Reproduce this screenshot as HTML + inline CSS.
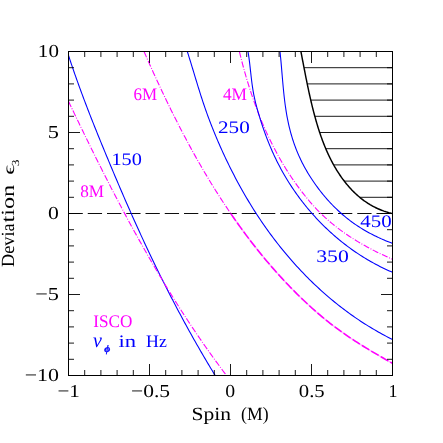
<!DOCTYPE html>
<html><head><meta charset="utf-8"><title>plot</title>
<style>
html,body{margin:0;padding:0;background:#fff;}
svg{display:block;will-change:transform;}
text{font-family:"Liberation Serif",serif;text-rendering:geometricPrecision;}
</style></head><body>
<svg width="443" height="443" viewBox="0 0 443 443">
<rect x="0" y="0" width="443" height="443" fill="#ffffff"/>

<defs><clipPath id="hc"><path d="M300.90,51.50 L301.22,53.13 L301.53,54.76 L301.84,56.38 L302.16,58.01 L302.47,59.64 L302.78,61.26 L303.09,62.89 L303.41,64.52 L303.72,66.14 L304.03,67.77 L304.35,69.39 L304.66,71.02 L304.98,72.64 L305.30,74.26 L305.62,75.89 L305.94,77.51 L306.26,79.13 L306.59,80.75 L306.92,82.38 L307.25,84.00 L307.59,85.62 L307.92,87.24 L308.27,88.85 L308.61,90.47 L308.96,92.09 L309.31,93.71 L309.67,95.32 L310.03,96.94 L310.40,98.55 L310.77,100.16 L311.15,101.78 L311.53,103.39 L311.92,105.00 L312.31,106.61 L312.71,108.22 L313.12,109.82 L313.53,111.43 L313.95,113.04 L314.37,114.64 L314.80,116.25 L315.24,117.85 L315.69,119.45 L316.15,121.05 L316.61,122.65 L317.08,124.24 L317.56,125.84 L318.05,127.43 L318.55,129.02 L319.06,130.60 L319.58,132.18 L320.11,133.76 L320.65,135.34 L321.20,136.91 L321.76,138.48 L322.33,140.04 L322.92,141.60 L323.51,143.15 L324.12,144.70 L324.74,146.24 L325.38,147.78 L326.03,149.31 L326.69,150.83 L327.36,152.35 L328.05,153.86 L328.75,155.37 L329.47,156.87 L330.20,158.36 L330.95,159.84 L331.71,161.32 L332.49,162.78 L333.28,164.24 L334.10,165.70 L334.92,167.14 L335.77,168.57 L336.63,169.99 L337.51,171.41 L338.40,172.81 L339.31,174.20 L340.24,175.57 L341.19,176.93 L342.15,178.28 L343.13,179.62 L344.13,180.94 L345.15,182.25 L346.18,183.53 L347.23,184.81 L348.30,186.06 L349.39,187.30 L350.49,188.52 L351.62,189.72 L352.76,190.90 L353.92,192.06 L355.09,193.19 L356.29,194.31 L357.51,195.41 L358.74,196.48 L359.99,197.53 L361.27,198.55 L362.56,199.55 L363.87,200.53 L365.19,201.48 L366.54,202.40 L367.91,203.30 L369.30,204.17 L370.70,205.01 L372.13,205.82 L373.58,206.61 L375.04,207.36 L376.53,208.08 L378.03,208.77 L379.56,209.43 L381.11,210.06 L382.67,210.66 L384.26,211.22 L385.87,211.74 L387.49,212.24 L389.14,212.69 L390.81,213.12 L392.50,213.50 L392.5,51.5 Z"/></clipPath></defs>
<g clip-path="url(#hc)" stroke="#000" stroke-width="0.9" fill="none">
<line x1="68.5" y1="197.30" x2="392.5" y2="197.30"/>
<line x1="68.5" y1="181.10" x2="392.5" y2="181.10"/>
<line x1="68.5" y1="164.90" x2="392.5" y2="164.90"/>
<line x1="68.5" y1="148.70" x2="392.5" y2="148.70"/>
<line x1="68.5" y1="132.50" x2="392.5" y2="132.50"/>
<line x1="68.5" y1="116.30" x2="392.5" y2="116.30"/>
<line x1="68.5" y1="100.10" x2="392.5" y2="100.10"/>
<line x1="68.5" y1="83.90" x2="392.5" y2="83.90"/>
<line x1="68.5" y1="67.70" x2="392.5" y2="67.70"/>
</g>
<line x1="68.5" y1="213.5" x2="392.5" y2="213.5" stroke="#000" stroke-width="0.95" stroke-dasharray="14.3 4.95"/>
<path d="M68.50,55.40 L69.19,57.51 L69.88,59.62 L70.59,61.72 L71.29,63.82 L72.00,65.93 L72.72,68.03 L73.44,70.12 L74.16,72.22 L74.89,74.31 L75.63,76.41 L76.37,78.50 L77.11,80.59 L77.86,82.68 L78.61,84.76 L79.37,86.85 L80.13,88.93 L80.89,91.01 L81.66,93.09 L82.44,95.17 L83.21,97.25 L83.99,99.32 L84.78,101.40 L85.56,103.47 L86.36,105.54 L87.15,107.62 L87.95,109.68 L88.75,111.75 L89.55,113.82 L90.36,115.89 L91.17,117.95 L91.98,120.02 L92.80,122.08 L93.62,124.14 L94.44,126.20 L95.26,128.26 L96.09,130.32 L96.92,132.38 L97.75,134.44 L98.58,136.49 L99.42,138.55 L100.25,140.60 L101.09,142.66 L101.93,144.71 L102.78,146.76 L103.62,148.82 L104.47,150.87 L105.31,152.92 L106.16,154.97 L107.01,157.02 L107.87,159.07 L108.72,161.12 L109.57,163.16 L110.43,165.21 L111.29,167.26 L112.15,169.31 L113.01,171.35 L113.87,173.40 L114.73,175.44 L115.60,177.48 L116.46,179.53 L117.33,181.57 L118.20,183.61 L119.07,185.65 L119.94,187.69 L120.82,189.73 L121.69,191.77 L122.57,193.81 L123.45,195.85 L124.34,197.88 L125.22,199.92 L126.11,201.95 L127.00,203.98 L127.89,206.02 L128.78,208.05 L129.68,210.08 L130.58,212.11 L131.48,214.13 L132.38,216.16 L133.28,218.19 L134.19,220.21 L135.10,222.23 L136.01,224.26 L136.93,226.28 L137.85,228.30 L138.77,230.32 L139.69,232.33 L140.61,234.35 L141.54,236.36 L142.47,238.38 L143.40,240.39 L144.34,242.40 L145.28,244.41 L146.22,246.42 L147.16,248.43 L148.11,250.43 L149.06,252.44 L150.01,254.44 L150.96,256.44 L151.92,258.45 L152.88,260.44 L153.84,262.44 L154.81,264.44 L155.78,266.43 L156.75,268.43 L157.72,270.42 L158.70,272.41 L159.68,274.40 L160.66,276.39 L161.65,278.37 L162.64,280.36 L163.63,282.34 L164.63,284.32 L165.62,286.30 L166.63,288.28 L167.63,290.26 L168.64,292.23 L169.65,294.21 L170.66,296.18 L171.68,298.15 L172.70,300.12 L173.72,302.09 L174.75,304.05 L175.78,306.02 L176.81,307.98 L177.85,309.94 L178.89,311.90 L179.93,313.86 L180.98,315.81 L182.03,317.77 L183.08,319.72 L184.14,321.67 L185.20,323.62 L186.26,325.56 L187.33,327.51 L188.40,329.45 L189.48,331.39 L190.55,333.33 L191.64,335.27 L192.72,337.20 L193.81,339.14 L194.90,341.07 L196.00,343.00 L197.10,344.93 L198.20,346.85 L199.31,348.78 L200.42,350.70 L201.53,352.62 L202.65,354.54 L203.77,356.45 L204.90,358.37 L206.03,360.28 L207.16,362.19 L208.30,364.10 L209.44,366.00 L210.58,367.91 L211.73,369.81 L212.88,371.71 L214.04,373.60 L215.20,375.50" fill="none" stroke="#0000ff" stroke-width="1.08" stroke-linejoin="round"/>
<path d="M68.50,101.30 L69.36,103.10 L70.21,104.90 L71.07,106.69 L71.93,108.49 L72.79,110.29 L73.65,112.09 L74.51,113.88 L75.37,115.68 L76.23,117.48 L77.10,119.27 L77.96,121.07 L78.83,122.86 L79.69,124.66 L80.56,126.45 L81.43,128.25 L82.30,130.04 L83.17,131.83 L84.04,133.63 L84.92,135.42 L85.79,137.21 L86.67,139.00 L87.54,140.79 L88.42,142.58 L89.30,144.37 L90.18,146.16 L91.06,147.95 L91.94,149.74 L92.83,151.53 L93.71,153.31 L94.60,155.10 L95.49,156.89 L96.38,158.67 L97.27,160.46 L98.16,162.24 L99.05,164.02 L99.95,165.81 L100.85,167.59 L101.74,169.37 L102.64,171.15 L103.54,172.93 L104.45,174.71 L105.35,176.49 L106.26,178.26 L107.16,180.04 L108.07,181.82 L108.98,183.59 L109.89,185.36 L110.81,187.14 L111.72,188.91 L112.64,190.68 L113.56,192.45 L114.48,194.22 L115.40,195.99 L116.32,197.76 L117.25,199.53 L118.18,201.29 L119.10,203.06 L120.03,204.82 L120.97,206.58 L121.90,208.35 L122.84,210.11 L123.78,211.87 L124.72,213.63 L125.66,215.38 L126.60,217.14 L127.55,218.90 L128.50,220.65 L129.45,222.40 L130.40,224.16 L131.35,225.91 L132.31,227.66 L133.27,229.41 L134.23,231.15 L135.19,232.90 L136.15,234.64 L137.12,236.39 L138.09,238.13 L139.06,239.87 L140.03,241.61 L141.01,243.35 L141.98,245.09 L142.96,246.83 L143.94,248.56 L144.93,250.29 L145.92,252.03 L146.90,253.76 L147.89,255.49 L148.89,257.22 L149.88,258.94 L150.88,260.67 L151.88,262.39 L152.89,264.11 L153.89,265.83 L154.90,267.55 L155.91,269.27 L156.92,270.99 L157.94,272.70 L158.95,274.42 L159.97,276.13 L161.00,277.84 L162.02,279.55 L163.05,281.25 L164.08,282.96 L165.11,284.66 L166.15,286.37 L167.19,288.07 L168.23,289.77 L169.27,291.46 L170.32,293.16 L171.37,294.85 L172.42,296.55 L173.48,298.24 L174.53,299.92 L175.60,301.61 L176.66,303.30 L177.72,304.98 L178.79,306.66 L179.87,308.34 L180.94,310.02 L182.02,311.70 L183.10,313.37 L184.18,315.04 L185.27,316.71 L186.36,318.38 L187.45,320.05 L188.55,321.72 L189.64,323.38 L190.75,325.04 L191.85,326.70 L192.96,328.36 L194.07,330.01 L195.18,331.66 L196.30,333.32 L197.42,334.97 L198.54,336.61 L199.67,338.26 L200.80,339.90 L201.93,341.54 L203.07,343.18 L204.21,344.82 L205.35,346.45 L206.50,348.09 L207.65,349.72 L208.80,351.34 L209.95,352.97 L211.11,354.59 L212.28,356.22 L213.44,357.84 L214.61,359.45 L215.79,361.07 L216.96,362.68 L218.14,364.29 L219.33,365.90 L220.51,367.51 L221.70,369.11 L222.90,370.71 L224.09,372.31 L225.30,373.91 L226.50,375.50" fill="none" stroke="#ff00ff" stroke-width="1.1" stroke-dasharray="6.2 1.6 0.9 1.6" stroke-linejoin="round"/>
<path d="M144.00,51.50 L145.02,53.82 L146.04,56.15 L147.07,58.47 L148.10,60.80 L149.13,63.12 L150.17,65.44 L151.21,67.76 L152.26,70.09 L153.31,72.41 L154.37,74.73 L155.43,77.05 L156.49,79.37 L157.56,81.69 L158.64,84.00 L159.72,86.32 L160.80,88.63 L161.89,90.95 L162.99,93.26 L164.08,95.57 L165.19,97.88 L166.30,100.19 L167.41,102.49 L168.53,104.80 L169.66,107.10 L170.79,109.40 L171.92,111.70 L173.06,113.99 L174.21,116.29 L175.36,118.58 L176.52,120.87 L177.68,123.16 L178.85,125.44 L180.02,127.72 L181.21,130.00 L182.39,132.28 L183.58,134.55 L184.78,136.82 L185.99,139.09 L187.20,141.35 L188.41,143.61 L189.64,145.87 L190.86,148.12 L192.10,150.38 L193.34,152.62 L194.59,154.87 L195.84,157.11 L197.10,159.34 L198.37,161.58 L199.65,163.80 L200.93,166.03 L202.21,168.25 L203.51,170.47 L204.81,172.68 L206.12,174.89 L207.43,177.09 L208.75,179.29 L210.08,181.48 L211.42,183.67 L212.76,185.86 L214.11,188.04 L215.47,190.21 L216.84,192.38 L218.21,194.55 L219.59,196.71 L220.98,198.86 L222.38,201.01 L223.78,203.15 L225.19,205.29 L226.61,207.42 L228.03,209.55 L229.47,211.67 L230.91,213.79" fill="none" stroke="#ff00ff" stroke-width="1.1" stroke-dasharray="6.2 1.6 0.9 1.6" stroke-linejoin="round"/>
<path d="M230.91,213.79 L232.36,215.89 L233.82,218.00 L235.28,220.10 L236.76,222.19 L238.24,224.27 L239.73,226.35 L241.23,228.42 L242.74,230.49 L244.25,232.55 L245.78,234.60 L247.31,236.64 L248.85,238.68 L250.40,240.71 L251.96,242.74 L253.53,244.76 L255.11,246.77 L256.69,248.77 L258.28,250.76 L259.89,252.75 L261.50,254.73 L263.12,256.71 L264.75,258.67 L266.39,260.63 L268.04,262.58 L269.70,264.52 L271.36,266.46 L273.04,268.38 L274.73,270.30 L276.42,272.21 L278.13,274.11 L279.84,276.00 L281.57,277.89 L283.30,279.76 L285.05,281.63 L286.80,283.49 L288.56,285.34 L290.34,287.18 L292.12,289.01 L293.91,290.83 L295.72,292.65 L297.53,294.45 L299.36,296.24 L301.19,298.03 L303.04,299.80 L304.90,301.56 L306.76,303.31 L308.64,305.05 L310.53,306.77 L312.43,308.49 L314.35,310.19 L316.27,311.87 L318.21,313.55 L320.16,315.21 L322.12,316.85 L324.09,318.48 L326.08,320.10 L328.07,321.69 L330.08,323.28 L332.11,324.84 L334.14,326.39 L336.19,327.93 L338.25,329.44 L340.32,330.94 L342.41,332.43 L344.50,333.90 L346.61,335.36 L348.72,336.80 L350.85,338.23 L352.98,339.64 L355.13,341.04 L357.28,342.43 L359.44,343.81 L361.60,345.18 L363.78,346.53 L365.96,347.87 L368.15,349.21 L370.34,350.53 L372.54,351.84 L374.74,353.15 L376.95,354.44 L379.16,355.73 L381.38,357.01 L383.60,358.28 L385.82,359.55 L388.04,360.80 L390.27,362.05 L392.50,363.30" fill="none" stroke="#ff00ff" stroke-width="1.4" stroke-opacity="0.3" stroke-linejoin="round"/>
<path d="M230.91,213.79 L232.36,215.89 L233.82,218.00 L235.28,220.10 L236.76,222.19 L238.24,224.27 L239.73,226.35 L241.23,228.42 L242.74,230.49 L244.25,232.55 L245.78,234.60 L247.31,236.64 L248.85,238.68 L250.40,240.71 L251.96,242.74 L253.53,244.76 L255.11,246.77 L256.69,248.77 L258.28,250.76 L259.89,252.75 L261.50,254.73 L263.12,256.71 L264.75,258.67 L266.39,260.63 L268.04,262.58 L269.70,264.52 L271.36,266.46 L273.04,268.38 L274.73,270.30 L276.42,272.21 L278.13,274.11 L279.84,276.00 L281.57,277.89 L283.30,279.76 L285.05,281.63 L286.80,283.49 L288.56,285.34 L290.34,287.18 L292.12,289.01 L293.91,290.83 L295.72,292.65 L297.53,294.45 L299.36,296.24 L301.19,298.03 L303.04,299.80 L304.90,301.56 L306.76,303.31 L308.64,305.05 L310.53,306.77 L312.43,308.49 L314.35,310.19 L316.27,311.87 L318.21,313.55 L320.16,315.21 L322.12,316.85 L324.09,318.48 L326.08,320.10 L328.07,321.69 L330.08,323.28 L332.11,324.84 L334.14,326.39 L336.19,327.93 L338.25,329.44 L340.32,330.94 L342.41,332.43 L344.50,333.90 L346.61,335.36 L348.72,336.80 L350.85,338.23 L352.98,339.64 L355.13,341.04 L357.28,342.43 L359.44,343.81 L361.60,345.18 L363.78,346.53 L365.96,347.87 L368.15,349.21 L370.34,350.53 L372.54,351.84 L374.74,353.15 L376.95,354.44 L379.16,355.73 L381.38,357.01 L383.60,358.28 L385.82,359.55 L388.04,360.80 L390.27,362.05 L392.50,363.30" fill="none" stroke="#ff00ff" stroke-width="1.55" stroke-dasharray="8.6 2.4" stroke-linejoin="round"/>
<path d="M187.30,51.50 L188.00,53.68 L188.69,55.87 L189.37,58.06 L190.05,60.25 L190.72,62.44 L191.40,64.63 L192.06,66.82 L192.73,69.02 L193.39,71.21 L194.06,73.41 L194.72,75.60 L195.39,77.79 L196.05,79.99 L196.72,82.18 L197.39,84.37 L198.06,86.56 L198.74,88.75 L199.43,90.94 L200.11,93.12 L200.81,95.31 L201.51,97.49 L202.22,99.66 L202.93,101.84 L203.66,104.01 L204.39,106.18 L205.14,108.35 L205.90,110.51 L206.66,112.67 L207.44,114.82 L208.23,116.97 L209.03,119.12 L209.84,121.26 L210.65,123.40 L211.48,125.54 L212.32,127.67 L213.17,129.80 L214.03,131.92 L214.90,134.04 L215.78,136.16 L216.67,138.27 L217.57,140.38 L218.47,142.49 L219.39,144.59 L220.32,146.68 L221.25,148.78 L222.20,150.87 L223.15,152.95 L224.11,155.03 L225.08,157.11 L226.06,159.18 L227.05,161.25 L228.05,163.31 L229.06,165.37 L230.07,167.43 L231.10,169.48 L232.13,171.52 L233.18,173.56 L234.23,175.60 L235.29,177.63 L236.36,179.66 L237.44,181.68 L238.53,183.70 L239.63,185.71 L240.74,187.72 L241.86,189.72 L242.99,191.71 L244.13,193.70 L245.28,195.69 L246.44,197.67 L247.60,199.64 L248.78,201.61 L249.97,203.57 L251.17,205.52 L252.38,207.47 L253.60,209.42 L254.83,211.35 L256.07,213.28 L257.32,215.21 L258.58,217.13 L259.86,219.04 L261.14,220.94 L262.43,222.84 L263.74,224.73 L265.05,226.61 L266.37,228.49 L267.71,230.36 L269.05,232.22 L270.41,234.08 L271.78,235.92 L273.15,237.76 L274.54,239.59 L275.94,241.42 L277.35,243.23 L278.76,245.04 L280.19,246.84 L281.63,248.63 L283.08,250.41 L284.54,252.18 L286.01,253.95 L287.49,255.70 L288.98,257.45 L290.48,259.18 L291.99,260.91 L293.51,262.63 L295.04,264.34 L296.58,266.04 L298.13,267.73 L299.70,269.41 L301.27,271.08 L302.85,272.74 L304.44,274.39 L306.04,276.03 L307.66,277.66 L309.28,279.28 L310.91,280.89 L312.55,282.49 L314.20,284.07 L315.87,285.65 L317.54,287.21 L319.22,288.77 L320.91,290.31 L322.62,291.84 L324.33,293.36 L326.05,294.87 L327.78,296.37 L329.53,297.85 L331.28,299.33 L333.04,300.79 L334.81,302.24 L336.59,303.67 L338.38,305.10 L340.19,306.51 L342.00,307.91 L343.82,309.30 L345.65,310.67 L347.49,312.03 L349.34,313.38 L351.20,314.71 L353.07,316.03 L354.95,317.34 L356.84,318.64 L358.74,319.92 L360.65,321.18 L362.57,322.44 L364.49,323.68 L366.43,324.90 L368.38,326.11 L370.34,327.31 L372.30,328.49 L374.28,329.66 L376.27,330.81 L378.26,331.95 L380.27,333.08 L382.28,334.18 L384.31,335.28 L386.34,336.36 L388.38,337.42 L390.44,338.47 L392.50,339.50" fill="none" stroke="#0000ff" stroke-width="1.08" stroke-linejoin="round"/>
<path d="M239.40,51.50 L239.80,53.14 L240.20,54.79 L240.61,56.43 L241.02,58.07 L241.43,59.71 L241.85,61.35 L242.28,62.99 L242.71,64.62 L243.15,66.26 L243.59,67.89 L244.04,69.52 L244.49,71.16 L244.95,72.79 L245.41,74.41 L245.88,76.04 L246.35,77.67 L246.83,79.29 L247.32,80.91 L247.81,82.53 L248.31,84.15 L248.81,85.77 L249.32,87.39 L249.83,89.00 L250.35,90.61 L250.88,92.22 L251.41,93.83 L251.95,95.43 L252.49,97.03 L253.05,98.64 L253.60,100.23 L254.17,101.83 L254.74,103.42 L255.31,105.01 L255.89,106.60 L256.48,108.19 L257.08,109.77 L257.68,111.35 L258.29,112.93 L258.91,114.51 L259.53,116.08 L260.16,117.65 L260.79,119.22 L261.44,120.78 L262.09,122.34 L262.74,123.90 L263.41,125.45 L264.08,127.00 L264.76,128.55 L265.45,130.10 L266.14,131.64 L266.84,133.18 L267.55,134.71 L268.26,136.24 L268.99,137.77 L269.72,139.29 L270.46,140.81 L271.20,142.33 L271.96,143.84 L272.72,145.35 L273.49,146.86 L274.26,148.36 L275.05,149.86 L275.84,151.35 L276.64,152.84 L277.45,154.33 L278.27,155.81 L279.10,157.28 L279.93,158.76 L280.77,160.22 L281.62,161.69 L282.48,163.15 L283.35,164.60 L284.23,166.05 L285.11,167.50 L286.00,168.94 L286.91,170.37 L287.82,171.80 L288.73,173.23 L289.66,174.65 L290.60,176.07 L291.54,177.48 L292.49,178.88 L293.46,180.28 L294.42,181.67 L295.40,183.06 L296.39,184.44 L297.38,185.81 L298.39,187.18 L299.40,188.54 L300.42,189.90 L301.44,191.25 L302.48,192.59 L303.52,193.92 L304.58,195.25 L305.64,196.57 L306.71,197.88 L307.79,199.19 L308.87,200.48 L309.97,201.77 L311.08,203.05 L312.19,204.32 L313.32,205.58 L314.45,206.83 L315.60,208.07 L316.76,209.30 L317.92,210.52 L319.10,211.72 L320.29,212.92 L321.50,214.10 L322.71,215.27 L323.94,216.43 L325.18,217.57 L326.42,218.70 L327.69,219.83 L328.96,220.93 L330.24,222.03 L331.53,223.11 L332.84,224.19 L334.15,225.25 L335.47,226.30 L336.81,227.34 L338.15,228.36 L339.50,229.38 L340.86,230.38 L342.23,231.38 L343.61,232.36 L345.00,233.33 L346.39,234.29 L347.80,235.24 L349.21,236.18 L350.63,237.11 L352.05,238.03 L353.49,238.93 L354.93,239.83 L356.37,240.72 L357.82,241.60 L359.28,242.47 L360.75,243.33 L362.22,244.17 L363.70,245.01 L365.18,245.84 L366.66,246.67 L368.16,247.48 L369.65,248.28 L371.15,249.07 L372.66,249.86 L374.17,250.63 L375.68,251.40 L377.19,252.16 L378.71,252.91 L380.24,253.65 L381.76,254.39 L383.29,255.11 L384.82,255.83 L386.35,256.54 L387.89,257.24 L389.42,257.93 L390.96,258.62 L392.50,259.30" fill="none" stroke="#ff00ff" stroke-width="1.1" stroke-dasharray="6.2 1.6 0.9 1.6" stroke-linejoin="round"/>
<path d="M248.00,51.50 L248.28,53.22 L248.55,54.95 L248.80,56.68 L249.04,58.41 L249.27,60.14 L249.49,61.88 L249.70,63.62 L249.90,65.35 L250.10,67.09 L250.29,68.83 L250.48,70.57 L250.67,72.31 L250.87,74.05 L251.06,75.79 L251.26,77.53 L251.47,79.26 L251.68,81.00 L251.90,82.73 L252.13,84.46 L252.37,86.19 L252.63,87.91 L252.90,89.64 L253.19,91.35 L253.49,93.07 L253.82,94.78 L254.16,96.48 L254.53,98.19 L254.91,99.89 L255.31,101.58 L255.72,103.27 L256.15,104.96 L256.60,106.65 L257.05,108.33 L257.52,110.01 L258.00,111.69 L258.49,113.37 L258.99,115.05 L259.49,116.72 L260.01,118.39 L260.53,120.06 L261.06,121.73 L261.60,123.40 L262.15,125.06 L262.71,126.72 L263.28,128.38 L263.85,130.03 L264.44,131.68 L265.04,133.33 L265.64,134.97 L266.25,136.61 L266.88,138.25 L267.51,139.88 L268.15,141.51 L268.81,143.13 L269.47,144.75 L270.14,146.37 L270.83,147.97 L271.52,149.58 L272.22,151.18 L272.93,152.77 L273.66,154.36 L274.39,155.94 L275.13,157.51 L275.89,159.08 L276.65,160.65 L277.43,162.21 L278.22,163.76 L279.02,165.31 L279.83,166.85 L280.65,168.39 L281.49,169.92 L282.33,171.45 L283.19,172.97 L284.05,174.48 L284.93,175.99 L285.82,177.49 L286.72,178.99 L287.63,180.48 L288.55,181.96 L289.49,183.44 L290.43,184.91 L291.38,186.37 L292.35,187.83 L293.32,189.28 L294.31,190.72 L295.31,192.16 L296.31,193.59 L297.33,195.01 L298.36,196.43 L299.39,197.83 L300.44,199.23 L301.50,200.63 L302.57,202.01 L303.65,203.39 L304.73,204.76 L305.83,206.12 L306.94,207.48 L308.06,208.82 L309.18,210.16 L310.32,211.49 L311.47,212.81 L312.62,214.12 L313.79,215.43 L314.96,216.72 L316.15,218.01 L317.34,219.29 L318.55,220.56 L319.76,221.82 L320.98,223.07 L322.21,224.32 L323.45,225.55 L324.70,226.77 L325.96,227.99 L327.22,229.19 L328.50,230.39 L329.78,231.58 L331.08,232.75 L332.38,233.92 L333.69,235.08 L335.01,236.23 L336.33,237.36 L337.67,238.49 L339.01,239.61 L340.36,240.72 L341.73,241.81 L343.09,242.90 L344.47,243.97 L345.86,245.04 L347.25,246.09 L348.65,247.14 L350.06,248.17 L351.48,249.19 L352.90,250.20 L354.33,251.20 L355.77,252.19 L357.22,253.16 L358.68,254.13 L360.14,255.08 L361.61,256.03 L363.09,256.96 L364.57,257.87 L366.06,258.78 L367.56,259.68 L369.07,260.56 L370.59,261.43 L372.11,262.29 L373.63,263.13 L375.17,263.97 L376.71,264.79 L378.26,265.60 L379.82,266.40 L381.38,267.18 L382.95,267.95 L384.52,268.71 L386.11,269.45 L387.69,270.18 L389.29,270.90 L390.89,271.61 L392.50,272.30" fill="none" stroke="#0000ff" stroke-width="1.08" stroke-linejoin="round"/>
<path d="M280.00,51.50 L280.16,52.98 L280.31,54.46 L280.46,55.94 L280.60,57.43 L280.74,58.91 L280.88,60.40 L281.02,61.89 L281.15,63.38 L281.28,64.87 L281.41,66.36 L281.54,67.85 L281.66,69.35 L281.79,70.84 L281.91,72.34 L282.04,73.83 L282.16,75.33 L282.29,76.82 L282.42,78.32 L282.54,79.82 L282.67,81.31 L282.81,82.81 L282.94,84.30 L283.08,85.80 L283.22,87.30 L283.36,88.79 L283.51,90.29 L283.66,91.78 L283.81,93.28 L283.97,94.77 L284.13,96.26 L284.30,97.75 L284.48,99.24 L284.66,100.73 L284.85,102.22 L285.04,103.71 L285.24,105.20 L285.45,106.68 L285.67,108.16 L285.89,109.65 L286.12,111.13 L286.36,112.60 L286.61,114.08 L286.87,115.56 L287.14,117.03 L287.42,118.50 L287.71,119.97 L288.01,121.43 L288.32,122.90 L288.64,124.36 L288.97,125.82 L289.32,127.27 L289.67,128.73 L290.04,130.18 L290.42,131.63 L290.82,133.07 L291.22,134.51 L291.64,135.95 L292.07,137.38 L292.51,138.81 L292.97,140.24 L293.44,141.66 L293.92,143.08 L294.41,144.49 L294.92,145.90 L295.44,147.30 L295.97,148.70 L296.52,150.10 L297.08,151.49 L297.65,152.87 L298.24,154.25 L298.84,155.62 L299.45,156.99 L300.08,158.35 L300.72,159.71 L301.37,161.06 L302.04,162.40 L302.72,163.74 L303.42,165.07 L304.13,166.39 L304.85,167.71 L305.58,169.02 L306.32,170.33 L307.08,171.63 L307.85,172.92 L308.63,174.20 L309.42,175.48 L310.22,176.76 L311.03,178.02 L311.86,179.28 L312.69,180.53 L313.53,181.77 L314.39,183.01 L315.25,184.24 L316.13,185.46 L317.01,186.68 L317.90,187.89 L318.80,189.09 L319.71,190.28 L320.63,191.46 L321.57,192.64 L322.51,193.81 L323.46,194.97 L324.41,196.12 L325.38,197.26 L326.36,198.39 L327.35,199.52 L328.35,200.63 L329.36,201.74 L330.37,202.84 L331.40,203.92 L332.44,205.00 L333.48,206.07 L334.54,207.13 L335.60,208.18 L336.68,209.21 L337.76,210.24 L338.86,211.26 L339.96,212.27 L341.07,213.26 L342.20,214.25 L343.33,215.22 L344.47,216.18 L345.62,217.13 L346.79,218.07 L347.96,219.00 L349.14,219.92 L350.33,220.82 L351.53,221.72 L352.74,222.60 L353.96,223.47 L355.19,224.32 L356.43,225.17 L357.68,226.00 L358.93,226.81 L360.20,227.62 L361.47,228.41 L362.76,229.20 L364.05,229.96 L365.35,230.72 L366.66,231.47 L367.97,232.20 L369.29,232.92 L370.62,233.63 L371.95,234.33 L373.29,235.01 L374.64,235.68 L375.99,236.35 L377.34,237.00 L378.70,237.63 L380.07,238.26 L381.44,238.88 L382.81,239.48 L384.19,240.07 L385.56,240.66 L386.95,241.23 L388.33,241.79 L389.72,242.34 L391.11,242.87 L392.50,243.40" fill="none" stroke="#0000ff" stroke-width="1.08" stroke-linejoin="round"/>
<path d="M300.90,51.50 L301.14,52.72 L301.37,53.94 L301.61,55.15 L301.84,56.37 L302.08,57.59 L302.31,58.81 L302.54,60.03 L302.78,61.24 L303.01,62.46 L303.25,63.68 L303.48,64.89 L303.71,66.11 L303.95,67.33 L304.18,68.54 L304.42,69.76 L304.66,70.98 L304.89,72.19 L305.13,73.41 L305.37,74.62 L305.61,75.84 L305.85,77.05 L306.09,78.27 L306.33,79.48 L306.58,80.69 L306.82,81.91 L307.07,83.12 L307.32,84.33 L307.57,85.54 L307.82,86.76 L308.08,87.97 L308.34,89.18 L308.59,90.39 L308.85,91.60 L309.12,92.81 L309.38,94.02 L309.65,95.23 L309.92,96.44 L310.19,97.65 L310.47,98.85 L310.75,100.06 L311.03,101.27 L311.31,102.48 L311.60,103.68 L311.89,104.89 L312.18,106.09 L312.48,107.30 L312.78,108.50 L313.09,109.70 L313.39,110.91 L313.70,112.11 L314.02,113.31 L314.34,114.51 L314.66,115.71 L314.99,116.91 L315.32,118.11 L315.65,119.31 L315.99,120.51 L316.34,121.70 L316.69,122.90 L317.04,124.09 L317.40,125.29 L317.76,126.48 L318.13,127.67 L318.50,128.86 L318.88,130.04 L319.27,131.23 L319.66,132.41 L320.05,133.59 L320.45,134.77 L320.86,135.95 L321.28,137.13 L321.70,138.30 L322.12,139.47 L322.56,140.64 L323.00,141.80 L323.44,142.96 L323.90,144.12 L324.36,145.28 L324.82,146.43 L325.30,147.58 L325.78,148.73 L326.27,149.87 L326.77,151.01 L327.27,152.15 L327.78,153.28 L328.30,154.41 L328.83,155.54 L329.37,156.66 L329.91,157.78 L330.47,158.89 L331.03,160.00 L331.60,161.10 L332.18,162.20 L332.77,163.30 L333.37,164.39 L333.97,165.48 L334.59,166.56 L335.21,167.63 L335.85,168.71 L336.49,169.77 L337.15,170.83 L337.81,171.88 L338.48,172.93 L339.16,173.97 L339.85,175.00 L340.56,176.03 L341.27,177.05 L341.99,178.06 L342.72,179.06 L343.46,180.05 L344.21,181.04 L344.97,182.02 L345.74,182.98 L346.51,183.94 L347.30,184.89 L348.10,185.83 L348.91,186.76 L349.73,187.68 L350.56,188.59 L351.40,189.49 L352.25,190.38 L353.11,191.26 L353.98,192.12 L354.86,192.97 L355.75,193.82 L356.66,194.64 L357.57,195.46 L358.49,196.26 L359.42,197.06 L360.37,197.83 L361.32,198.60 L362.29,199.35 L363.26,200.08 L364.25,200.81 L365.25,201.51 L366.25,202.21 L367.27,202.89 L368.30,203.55 L369.34,204.20 L370.39,204.83 L371.46,205.44 L372.53,206.04 L373.61,206.62 L374.71,207.19 L375.82,207.74 L376.93,208.27 L378.06,208.79 L379.20,209.28 L380.35,209.76 L381.52,210.22 L382.69,210.66 L383.88,211.09 L385.07,211.49 L386.28,211.87 L387.50,212.24 L388.74,212.59 L389.98,212.91 L391.23,213.22 L392.50,213.50" fill="none" stroke="#000000" stroke-width="1.45" stroke-linejoin="round"/>
<g stroke="#000" stroke-width="0.9" fill="none" stroke-linecap="butt">
<rect x="68.5" y="51.5" width="324.0" height="324.0" stroke-width="1.0"/>
<path d="M68.50,375.5 v-11.5 M68.50,51.5 v11.5 M68.5,51.50 h11.5 M392.5,51.50 h-11.5 M84.70,375.5 v-5.5 M84.70,51.5 v5.5 M68.5,67.70 h5.5 M392.5,67.70 h-5.5 M100.90,375.5 v-5.5 M100.90,51.5 v5.5 M68.5,83.90 h5.5 M392.5,83.90 h-5.5 M117.10,375.5 v-5.5 M117.10,51.5 v5.5 M68.5,100.10 h5.5 M392.5,100.10 h-5.5 M133.30,375.5 v-5.5 M133.30,51.5 v5.5 M68.5,116.30 h5.5 M392.5,116.30 h-5.5 M149.50,375.5 v-11.5 M149.50,51.5 v11.5 M68.5,132.50 h11.5 M392.5,132.50 h-11.5 M165.70,375.5 v-5.5 M165.70,51.5 v5.5 M68.5,148.70 h5.5 M392.5,148.70 h-5.5 M181.90,375.5 v-5.5 M181.90,51.5 v5.5 M68.5,164.90 h5.5 M392.5,164.90 h-5.5 M198.10,375.5 v-5.5 M198.10,51.5 v5.5 M68.5,181.10 h5.5 M392.5,181.10 h-5.5 M214.30,375.5 v-5.5 M214.30,51.5 v5.5 M68.5,197.30 h5.5 M392.5,197.30 h-5.5 M230.50,375.5 v-11.5 M230.50,51.5 v11.5 M68.5,213.50 h11.5 M392.5,213.50 h-11.5 M246.70,375.5 v-5.5 M246.70,51.5 v5.5 M68.5,229.70 h5.5 M392.5,229.70 h-5.5 M262.90,375.5 v-5.5 M262.90,51.5 v5.5 M68.5,245.90 h5.5 M392.5,245.90 h-5.5 M279.10,375.5 v-5.5 M279.10,51.5 v5.5 M68.5,262.10 h5.5 M392.5,262.10 h-5.5 M295.30,375.5 v-5.5 M295.30,51.5 v5.5 M68.5,278.30 h5.5 M392.5,278.30 h-5.5 M311.50,375.5 v-11.5 M311.50,51.5 v11.5 M68.5,294.50 h11.5 M392.5,294.50 h-11.5 M327.70,375.5 v-5.5 M327.70,51.5 v5.5 M68.5,310.70 h5.5 M392.5,310.70 h-5.5 M343.90,375.5 v-5.5 M343.90,51.5 v5.5 M68.5,326.90 h5.5 M392.5,326.90 h-5.5 M360.10,375.5 v-5.5 M360.10,51.5 v5.5 M68.5,343.10 h5.5 M392.5,343.10 h-5.5 M376.30,375.5 v-5.5 M376.30,51.5 v5.5 M68.5,359.30 h5.5 M392.5,359.30 h-5.5 M392.50,375.5 v-11.5 M392.50,51.5 v11.5 M68.5,375.50 h11.5 M392.5,375.50 h-11.5"/>
</g>
<text x="37.88" y="57.20" font-size="18.3" fill="#000000" textLength="21.03" lengthAdjust="spacingAndGlyphs">10</text>
<text x="47.77" y="138.20" font-size="18.3" fill="#000000" textLength="11.17" lengthAdjust="spacingAndGlyphs">5</text>
<text x="48.11" y="219.20" font-size="18.3" fill="#000000" textLength="10.85" lengthAdjust="spacingAndGlyphs">0</text>
<text x="35.21" y="300.20" font-size="18.3" fill="#000000" textLength="23.74" lengthAdjust="spacingAndGlyphs">−5</text>
<text x="24.65" y="381.20" font-size="18.3" fill="#000000" textLength="34.32" lengthAdjust="spacingAndGlyphs">−10</text>
<text x="57.45" y="397.30" font-size="18.3" fill="#000000" textLength="22.44" lengthAdjust="spacingAndGlyphs">−1</text>
<text x="131.04" y="397.30" font-size="18.3" fill="#000000" textLength="39.03" lengthAdjust="spacingAndGlyphs">−0.5</text>
<text x="225.39" y="397.30" font-size="18.3" fill="#000000" textLength="9.88" lengthAdjust="spacingAndGlyphs">0</text>
<text x="298.79" y="397.30" font-size="18.3" fill="#000000" textLength="25.92" lengthAdjust="spacingAndGlyphs">0.5</text>
<text x="388.41" y="397.30" font-size="18.3" fill="#000000" textLength="9.00" lengthAdjust="spacingAndGlyphs">1</text>
<text x="191.62" y="420.10" font-size="18.6" fill="#000000" textLength="39.48" lengthAdjust="spacingAndGlyphs">Spin</text>
<text x="241.08" y="420.10" font-size="18.6" fill="#000000" textLength="27.49" lengthAdjust="spacingAndGlyphs">(M)</text>
<text x="133.55" y="100.30" font-size="17.6" fill="#ff00ff" textLength="23.63" lengthAdjust="spacingAndGlyphs">6M</text>
<text x="111.43" y="164.80" font-size="17.6" fill="#0000ff" textLength="30.44" lengthAdjust="spacingAndGlyphs">150</text>
<text x="80.25" y="197.30" font-size="17.6" fill="#ff00ff" textLength="23.87" lengthAdjust="spacingAndGlyphs">8M</text>
<text x="222.90" y="100.30" font-size="17.6" fill="#ff00ff" textLength="24.12" lengthAdjust="spacingAndGlyphs">4M</text>
<text x="218.03" y="132.50" font-size="17.6" fill="#0000ff" textLength="31.74" lengthAdjust="spacingAndGlyphs">250</text>
<text x="360.36" y="227.00" font-size="17.6" fill="#0000ff" textLength="31.35" lengthAdjust="spacingAndGlyphs">450</text>
<text x="316.25" y="261.50" font-size="17.6" fill="#0000ff" textLength="32.54" lengthAdjust="spacingAndGlyphs">350</text>
<text x="93.25" y="327.00" font-size="17.6" fill="#ff00ff" textLength="39.12" lengthAdjust="spacingAndGlyphs">ISCO</text>
<text x="93.10" y="346.60" font-size="20.5" fill="#0000ff" textLength="8.84" lengthAdjust="spacingAndGlyphs" font-style="italic">ν</text>
<text x="104.17" y="351.90" font-size="10.0" fill="#0000ff" textLength="6.01" lengthAdjust="spacingAndGlyphs" font-style="italic" font-weight="bold" stroke="#0000ff" stroke-width="0.35">ϕ</text>
<text x="118.59" y="346.60" font-size="17.6" fill="#0000ff" textLength="17.62" lengthAdjust="spacingAndGlyphs">in</text>
<text x="146.06" y="346.60" font-size="17.6" fill="#0000ff" textLength="20.80" lengthAdjust="spacingAndGlyphs">Hz</text>
<text x="-0.63" y="0" font-size="18.6" fill="#000000" textLength="43.61" lengthAdjust="spacingAndGlyphs" transform="translate(14.2,266.4) rotate(-90)">Devia</text>
<text x="43.96" y="0" font-size="18.6" fill="#000000" textLength="37.62" lengthAdjust="spacingAndGlyphs" transform="translate(14.2,266.4) rotate(-90)">tion</text>
<text x="91.57" y="0" font-size="16.0" fill="#000000" textLength="9.70" lengthAdjust="spacingAndGlyphs" transform="translate(14.2,266.4) rotate(-90)">ϵ</text>
<text x="100.11" y="0" font-size="10.8" fill="#000000" textLength="6.79" lengthAdjust="spacingAndGlyphs" transform="translate(19.2,266.4) rotate(-90)">3</text>
</svg></body></html>
